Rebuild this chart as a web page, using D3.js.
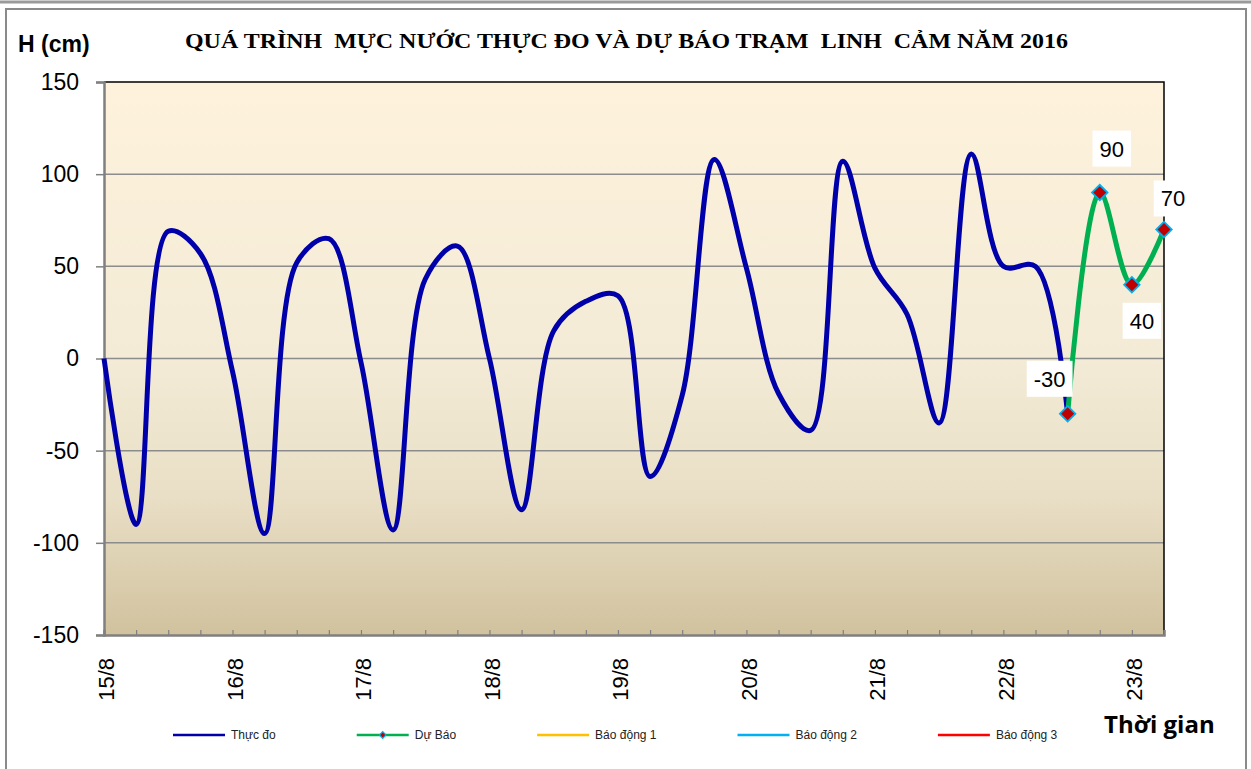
<!DOCTYPE html>
<html>
<head>
<meta charset="utf-8">
<script src="https://cdn.jsdelivr.net/npm/d3@7"></script>
<style>
  body { margin: 0; background: #fff; }
  text { font-family: "Liberation Sans", Arial, sans-serif; }
</style>
</head>
<body>
<div id="chart"></div>
<script>
// 6-hourly readings, index 0 = 15/8 00h
let thucDo = [0, -90, 69, 57, -7, -95, 52, 65, -2, -93, 43, 61, 0, -82, 15, 31, 34,
              -64, -20, 108, 49, -19, -39, 107, 49, 24, -35, 111, 50, 50, -30]
let duBao = [-30, 90, 40, 70]   // starts where thucDo ends
let duBaoStart = 30
let dayLabels = ["15/8", "16/8", "17/8", "18/8", "19/8", "20/8", "21/8", "22/8", "23/8"]
let yTicks = [-150, -100, -50, 0, 50, 100, 150]
let legendNames = ["Thực đo", "Dự Báo", "Báo động 1", "Báo động 2", "Báo động 3"]
let legendColors = ["#0000AA", "#00B050", "#FFC000", "#00B0F0", "#FF0000"]
let labelOffsets = [[-18, -35], [12, -44], [10, 36], [9, -31]]

function drawChart(){
    let width = 1251
    let height = 769
    let plot = {left: 104, right: 1164, top: 82, bottom: 635}

    let svg = d3.select("#chart")
        .append("svg")
            .attr("width", width)
            .attr("height", height)

    // frame
    svg.append("line")
        .attr("x1", 0).attr("x2", width).attr("y1", 2).attr("y2", 2)
        .attr("stroke", "#9a9a9a").attr("stroke-width", 3)
    svg.append("rect")
        .attr("x", 6).attr("y", 9).attr("width", 1240).attr("height", 780)
        .attr("fill", "none").attr("stroke", "#8a8a8a").attr("stroke-width", 2)

    let grad = svg.append("defs").append("linearGradient")
        .attr("id", "bg").attr("x1", 0).attr("y1", 0).attr("x2", 0).attr("y2", 1)
    grad.append("stop").attr("offset", 0).attr("stop-color", "#FEF2DC")
    grad.append("stop").attr("offset", 0.5).attr("stop-color", "#F3EBD6")
    grad.append("stop").attr("offset", 0.75).attr("stop-color", "#E9DFC6")
    grad.append("stop").attr("offset", 1).attr("stop-color", "#D1C29E")

    let n = duBaoStart + duBao.length
    let x = d3.scaleLinear().domain([0, n - 1]).range([plot.left, plot.right])
    let y = d3.scaleLinear().domain([-150, 150]).range([plot.bottom, plot.top])

    svg.append("rect")
        .attr("x", plot.left).attr("y", plot.top)
        .attr("width", plot.right - plot.left).attr("height", plot.bottom - plot.top)
        .attr("fill", "url(#bg)")

    // gridlines
    svg.selectAll(".grid")
        .data(yTicks.filter(d => d > -150 && d < 150))
        .enter()
        .append("line")
            .attr("class", "grid")
            .attr("x1", plot.left).attr("x2", plot.right)
            .attr("y1", d => y(d)).attr("y2", d => y(d))
            .attr("stroke", "#8c8c8c").attr("stroke-width", 1.5)

    // top / right border
    svg.append("path")
        .attr("d", `M${plot.left},${plot.top}H${plot.right}V${plot.bottom}`)
        .attr("fill", "none").attr("stroke", "#000").attr("stroke-width", 1.5)

    // y axis
    let yAxis = svg.append("g")
        .attr("transform", `translate(${plot.left},0)`)
        .call(d3.axisLeft(y).tickValues(yTicks).tickSize(8).tickPadding(17).tickFormat(String))
    yAxis.select(".domain").attr("stroke", "#808080").attr("stroke-width", 2.5)
    yAxis.selectAll(".tick line").attr("stroke", "#808080").attr("stroke-width", 1.5)
    yAxis.selectAll("text")
        .attr("font-size", "23px").attr("fill", "#000")
        .style("font-family", "'Liberation Sans', Arial, sans-serif")

    // x axis ticks (inside)
    let xAxis = svg.append("g")
        .attr("transform", `translate(0,${plot.bottom})`)
        .call(d3.axisBottom(x).tickValues(d3.range(n)).tickSize(-5).tickFormat(""))
    xAxis.select(".domain").attr("stroke", "#808080").attr("stroke-width", 2.5)
    xAxis.selectAll(".tick line").attr("stroke", "#808080").attr("stroke-width", 1.2)

    // x labels, one per day
    let xLab = svg.append("g")
        .attr("transform", `translate(0,${plot.bottom})`)
        .call(d3.axisBottom(x)
            .tickValues(dayLabels.map((d, i) => i * 4))
            .tickSize(0)
            .tickFormat((d, i) => dayLabels[i]))
    xLab.select(".domain").remove()
    xLab.selectAll("text")
        .attr("font-size", "22px").attr("fill", "#000")
        .style("font-family", "'Liberation Sans', Arial, sans-serif")
        .attr("text-anchor", "end")
        .attr("transform", "rotate(-90)")
        .attr("x", -23).attr("y", 2).attr("dy", "0.35em")

    // lines
    let line = d3.line()
        .x(d => x(d[0]))
        .y(d => y(d[1]))
        .curve(d3.curveCatmullRom.alpha(0.5))

    svg.append("path")
        .attr("d", line(thucDo.map((d, i) => [i, d])))
        .attr("fill", "none")
        .attr("stroke", legendColors[0])
        .attr("stroke-width", 5)
        .attr("stroke-linejoin", "round")

    let fcData = duBao.map((d, i) => [duBaoStart + i, d])
    svg.append("path")
        .attr("d", line(fcData))
        .attr("fill", "none")
        .attr("stroke", legendColors[1])
        .attr("stroke-width", 5)
        .attr("stroke-linejoin", "round")

    let diamond = d3.symbol(d3.symbolSquare, 120)
    svg.selectAll(".marker")
        .data(fcData)
        .enter()
        .append("path")
            .attr("class", "marker")
            .attr("d", diamond)
            .attr("transform", d => `translate(${x(d[0])},${y(d[1])}) rotate(45)`)
            .attr("fill", "#C00000")
            .attr("stroke", "#00B0F0")
            .attr("stroke-width", 1.8)

    // data labels
    let labels = svg.selectAll(".dlabel")
        .data(fcData)
        .enter()
        .append("g")
            .attr("class", "dlabel")
            .attr("transform", (d, i) =>
                `translate(${x(d[0]) + labelOffsets[i][0]},${y(d[1]) + labelOffsets[i][1]})`)
    labels.each(function(d){
        let g = d3.select(this)
        let t = g.append("text")
            .attr("text-anchor", "middle")
            .attr("dy", "0.36em")
            .attr("font-size", "22px")
            .attr("fill", "#000")
            .text(d[1])
        let w = t.node().getComputedTextLength() + 14
        g.insert("rect", "text")
            .attr("x", -w / 2).attr("y", -18)
            .attr("width", w).attr("height", 36)
            .attr("fill", "#fff")
    })

    // titles
    svg.append("text")
        .attr("x", 185).attr("y", 48)
        .attr("textLength", 883).attr("lengthAdjust", "spacingAndGlyphs")
        .style("font-family", "'Liberation Serif', 'Times New Roman', serif")
        .style("white-space", "pre")
        .attr("font-weight", "bold")
        .attr("font-size", "22px")
        .text("QUÁ TRÌNH  MỰC NƯỚC THỰC ĐO VÀ DỰ BÁO TRẠM  LINH  CẢM NĂM 2016")

    svg.append("text")
        .attr("x", 18).attr("y", 52)
        .attr("font-weight", "bold").attr("font-size", "23px")
        .text("H (cm)")

    svg.append("text")
        .attr("x", 1104).attr("y", 733)
        .style("font-family", "'Open Sans', sans-serif")
        .attr("font-weight", "bold").attr("font-size", "24px")
        .text("Thời gian")

    // legend
    let lx = 173
    let ly = 735
    legendNames.forEach(function(name, i){
        svg.append("line")
            .attr("x1", lx).attr("x2", lx + 52)
            .attr("y1", ly).attr("y2", ly)
            .attr("stroke", legendColors[i]).attr("stroke-width", 2.5)
        if (i == 1) {
            svg.append("path")
                .attr("d", d3.symbol(d3.symbolSquare, 22))
                .attr("transform", `translate(${lx + 26},${ly}) rotate(45)`)
                .attr("fill", "#C00000").attr("stroke", "#00B0F0").attr("stroke-width", 1.2)
        }
        let t = svg.append("text")
            .attr("x", lx + 58).attr("y", ly + 4)
            .attr("font-size", "12px").attr("fill", "#222")
            .text(name)
        lx += 58 + t.node().getComputedTextLength() + 81
    })
}
drawChart()
</script>
</body>
</html>
